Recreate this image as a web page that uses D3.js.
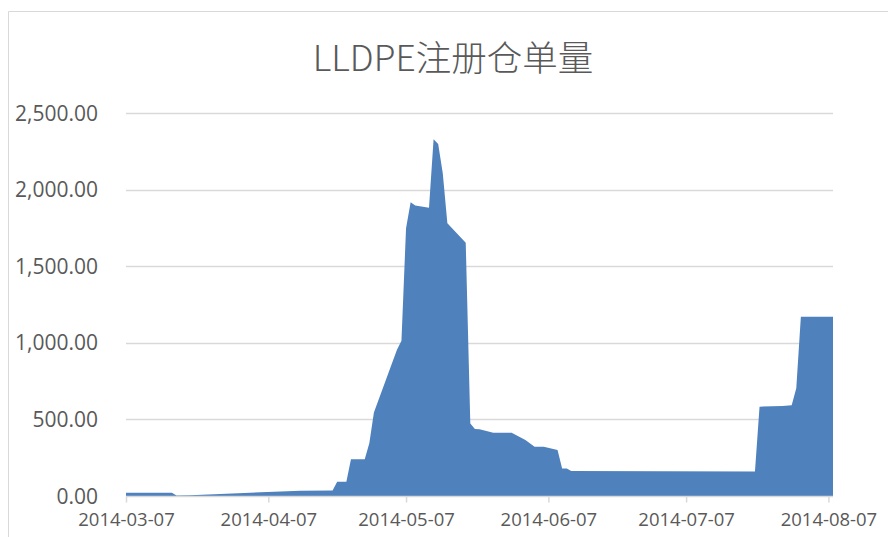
<!DOCTYPE html>
<meta charset="utf-8">
<style>
html, body { margin: 0; padding: 0; background: #fff; }
svg { display: block; }
text { fill: #595959; }
</style>
<body>
<script src="https://d3js.org/d3.v7.min.js"></script>
<script>

var width = 888,
    height = 537;

// registered warrant volume
var dates = ["2014-03-07","2014-03-17","2014-03-18","2014-03-21","2014-04-14","2014-04-21",
  "2014-04-22","2014-04-24","2014-04-25","2014-04-28","2014-04-29","2014-04-30",
  "2014-05-05","2014-05-06","2014-05-07","2014-05-08","2014-05-09","2014-05-12",
  "2014-05-13","2014-05-14","2014-05-15","2014-05-16","2014-05-20","2014-05-21",
  "2014-05-22","2014-05-23","2014-05-26","2014-05-30","2014-06-02","2014-06-04",
  "2014-06-06","2014-06-09","2014-06-10","2014-06-11","2014-06-12","2014-07-22",
  "2014-07-23","2014-07-28","2014-07-30","2014-07-31","2014-08-01","2014-08-08"];
var values = [22, 22, 4, 5, 35, 36,
  93, 93, 240, 240, 344, 545,
  953, 1014, 1747, 1917, 1897, 1882,
  2328, 2297, 2106, 1780, 1653, 474,
  437, 435, 413, 413, 365, 322,
  322, 300, 180, 180, 163, 160,
  583, 587, 592, 703, 1170, 1170];

var xTicks = ["2014-03-07","2014-04-07","2014-05-07","2014-06-07","2014-07-07","2014-08-07"];
var yTicks = [0, 500, 1000, 1500, 2000, 2500];
var title = "LLDPE注册仓单量";

var parse = d3.timeParse("%Y-%m-%d");
var data = dates.map(function(d, i){ return {date: parse(d), value: values[i]}; });

var plot = {left: 126, right: 833, top: 113, bottom: 496};

var x = d3.scaleTime()
  .domain([parse("2014-03-07"), parse("2014-08-08")])
  .range([plot.left, plot.right]);

var y = d3.scaleLinear()
  .domain([0, 2500])
  .range([plot.bottom, plot.top]);

var svg = d3.select("body").append("svg")
  .attr("width", width)
  .attr("height", height);

// chart border (cropped on right and bottom)
svg.append("path")
  .attr("d", "M8.5," + height + "V11.5H" + width)
  .attr("fill", "none")
  .attr("stroke", "#d9d9d9")
  .attr("stroke-width", 1);

svg.append("text")
  .attr("x", 453)
  .attr("y", 71)
  .attr("text-anchor", "middle")
  .style("font-family", "'Noto Sans CJK SC', 'Noto Sans', sans-serif")
  .style("font-weight", 300)
  .style("font-size", "35.5px")
  .text(title);

// gridlines
svg.append("g")
  .selectAll("line")
  .data(yTicks.slice(1))
  .enter().append("line")
  .attr("x1", plot.left)
  .attr("x2", plot.right)
  .attr("y1", function(d){ return Math.round(y(d)) + 0.5; })
  .attr("y2", function(d){ return Math.round(y(d)) + 0.5; })
  .attr("stroke", "#d9d9d9")
  .attr("stroke-width", 1.5);

var area = d3.area()
  .x(function(d){ return x(d.date); })
  .y0(y(0))
  .y1(function(d){ return y(d.value); });

svg.append("path")
  .datum(data)
  .attr("fill", "#4f81bd")
  .attr("d", area);

// y labels
svg.append("g")
  .selectAll("text")
  .data(yTicks)
  .enter().append("text")
  .attr("x", 98)
  .attr("y", function(d){ return y(d); })
  .attr("dy", "0.36em")
  .attr("text-anchor", "end")
  .style("font-family", "'Open Sans', sans-serif")
  .style("font-size", "21px")
  .text(d3.format(",.2f"));

// x axis
var xAxis = d3.axisBottom(x)
  .tickValues(xTicks.map(parse))
  .tickFormat(d3.timeFormat("%Y-%m-%d"))
  .tickSize(6)
  .tickPadding(10);

var gx = svg.append("g")
  .attr("transform", "translate(0," + (plot.bottom + 0.5) + ")")
  .call(xAxis);

gx.select(".domain")
  .attr("d", "M" + plot.left + ",0H" + plot.right)
  .attr("stroke", "#d9d9d9")
  .attr("stroke-width", 1.5);
gx.selectAll(".tick line").attr("stroke", "#d9d9d9").attr("stroke-width", 1.5);
gx.selectAll(".tick text")
  .style("font-family", "'Open Sans', sans-serif")
  .style("font-size", "18.5px")
  .attr("fill", "#595959");

</script>
</body>
